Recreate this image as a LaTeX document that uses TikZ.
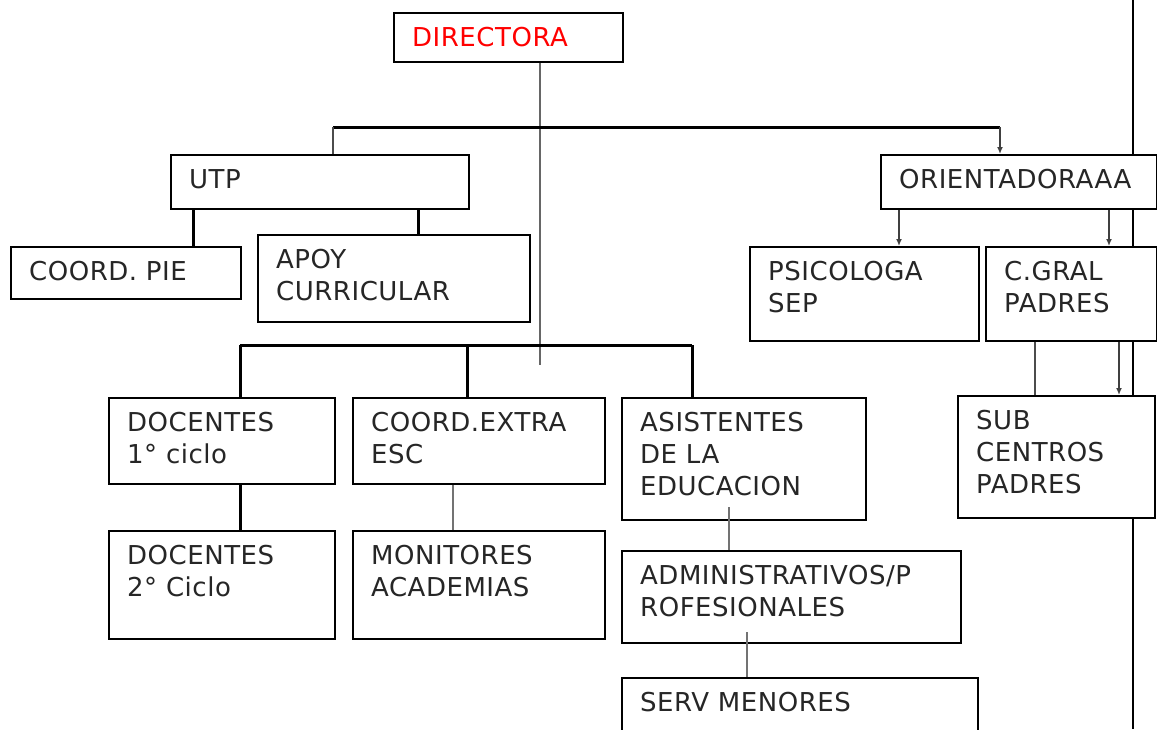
\documentclass[tikz,border=0pt]{standalone}
\usepackage{fontspec}
\setmainfont{DejaVu Sans}[LetterSpace=2]
\usetikzlibrary{arrows.meta}

\begin{document}
\begin{tikzpicture}[x=1pt, y=-1pt,
  box/.style 2 args={draw, line width=1.9pt, fill=white, anchor=north west,
    inner sep=0pt, minimum width=#1pt, minimum height=#2pt},
  txt/.style={anchor=north west, align=left, inner sep=0pt, xshift=19pt, yshift=-15pt,
    text=black!85, font=\fontsize{26pt}{32pt}\selectfont},
  bus/.style={line width=3pt},
  feed/.style={line width=2.3pt, draw=black!55},
  link/.style={line width=1.5pt, draw=black!75, -{Latex[length=7pt, width=6pt]}}]
  \useasboundingbox (0, 0) rectangle (1157, 729);
  % long line on the right, drawn first so the boxes sit on top of it
  \coordinate (railtop) at (1133, 0);
  \coordinate (railbot) at (1133, 729);
  \draw [line width=2.6pt] (railtop) -- (railbot);
  % Draw boxes
  \node [box={229}{49}] (dir) at (393, 12) {};
  \node [box={298}{54}] (utp) at (170, 154) {};
  \node [box={230}{52}] (pie) at (10, 246) {};
  \node [box={272}{87}] (apoy) at (257, 234) {};
  \node [box={276}{54}] (orient) at (880, 154) {};
  \node [box={229}{94}] (psico) at (749, 246) {};
  \node [box={171}{94}] (cgral) at (985, 246) {};
  \node [box={197}{122}] (sub) at (957, 395) {};
  \node [box={226}{86}] (doc1) at (108, 397) {};
  \node [box={252}{86}] (extra) at (352, 397) {};
  \node [box={244}{122}] (asist) at (621, 397) {};
  \node [box={226}{108}] (doc2) at (108, 530) {};
  \node [box={252}{108}] (monit) at (352, 530) {};
  \node [box={339}{92}] (admin) at (621, 550) {};
  \node [box={356}{80}] (serv) at (621, 677) {};
  % Add box texts
  \node [txt, text=red] (dirt) at (dir.north west) {DIRECTORA};
  \node [txt] (utpt) at (utp.north west) {UTP};
  \node [txt] (piet) at (pie.north west) {COORD. PIE};
  \node [txt] (apoyt) at (apoy.north west) {APOY\\CURRICULAR};
  \node [txt] (orientt) at (orient.north west) {ORIENTADORAAA};
  \node [txt] (psicot) at (psico.north west) {PSICOLOGA\\SEP};
  \node [txt] (cgralt) at (cgral.north west) {C.GRAL\\PADRES};
  \node [txt] (subt) at (sub.north west) {SUB\\CENTROS\\PADRES};
  \node [txt] (doc1t) at (doc1.north west) {DOCENTES\\1° ciclo};
  \node [txt] (extrat) at (extra.north west) {COORD.EXTRA\\ESC};
  \node [txt] (asistt) at (asist.north west) {ASISTENTES\\DE LA\\EDUCACION};
  \node [txt] (doc2t) at (doc2.north west) {DOCENTES\\2° Ciclo};
  \node [txt] (monitt) at (monit.north west) {MONITORES\\ACADEMIAS};
  \node [txt] (admint) at (admin.north west) {ADMINISTRATIVOS/P\\ROFESIONALES};
  \node [txt] (servt) at (serv.north west) {SERV MENORES};
  % line down from the directora
  \coordinate (dirfoot) at (540, 365);
  \draw [feed, draw=black!60] (dirfoot |- dir.south) -- (dirfoot);
  % top bar
  \coordinate (busL) at (333, 127);
  \coordinate (busR) at (1000, 127);
  \draw [bus] (busL) -- (busR);
  \draw [feed, draw=black!70] (busL) -- (busL |- utp.north);
  \draw [link] (busR) -- (busR |- orient.north);
  % under utp
  \coordinate (piex) at (193, 0);
  \coordinate (apoyx) at (418, 0);
  \draw [bus] (piex |- utp.south) -- (piex |- pie.north);
  \draw [bus] (apoyx |- utp.south) -- (apoyx |- apoy.north);
  % under orientadora
  \coordinate (psicox) at (899, 0);
  \coordinate (cgralx) at (1109, 0);
  \draw [link] (psicox |- orient.south) -- (psicox |- psico.north);
  \draw [link] (cgralx |- orient.south) -- (cgralx |- cgral.north);
  \coordinate (subx) at (1035, 0);
  \coordinate (subarrx) at (1119, 0);
  \draw [feed, draw=black!70] (subx |- cgral.south) -- (subx |- sub.north);
  \draw [link] (subarrx |- cgral.south) -- (subarrx |- sub.north);
  % bottom bar
  \coordinate (lowL) at (240, 345);
  \coordinate (lowM) at (467, 345);
  \coordinate (lowR) at (692, 345);
  \draw [bus] (lowL) -- (lowR);
  \draw [bus] (lowL) -- (lowL |- doc1.north);
  \draw [bus] (lowM) -- (lowM |- extra.north);
  \draw [bus] (lowR) -- (lowR |- asist.north);
  % lower levels
  \draw [bus] (lowL |- doc1.south) -- (lowL |- doc2.north);
  \coordinate (monitx) at (453, 0);
  \draw [feed] (monitx |- extra.south) -- (monitx |- monit.north);
  \coordinate (asistfoot) at (729, 507);
  \draw [feed] (asistfoot) -- (asistfoot |- admin.north);
  \coordinate (adminfoot) at (747, 632);
  \draw [feed] (adminfoot) -- (adminfoot |- serv.north);
\end{tikzpicture}
\end{document}
